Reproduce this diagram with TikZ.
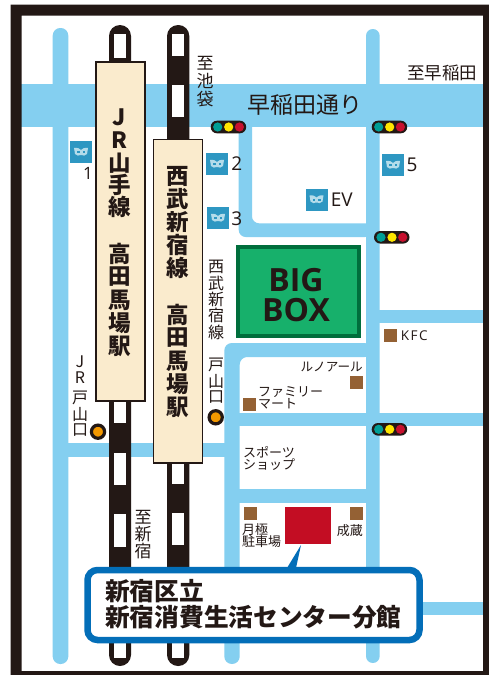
\documentclass[tikz,border=0pt]{standalone}
\usepackage{fontspec}
\setmainfont{Noto Sans CJK JP}
\newfontfamily\latinf{Open Sans}
\definecolor{road}{HTML}{84CFF0}
\definecolor{ink}{HTML}{231815}
\definecolor{cream}{HTML}{FAEBCD}
\definecolor{bbfill}{HTML}{17B06B}
\definecolor{bbline}{HTML}{006E3C}
\definecolor{brownsq}{HTML}{946134}
\definecolor{spot}{HTML}{C30D23}
\definecolor{callout}{HTML}{036EB8}
\definecolor{iconb}{HTML}{2E97C2}
\definecolor{icong}{HTML}{B4DCEA}
\definecolor{sigteal}{HTML}{009E96}
\definecolor{sigyel}{HTML}{FFE600}
\definecolor{sigred}{HTML}{C8102E}
\definecolor{orangest}{HTML}{F39800}
\tikzset{
  roadfill/.style={fill=road},
  tie/.style={fill=white},
  stationbox/.style={fill=cream,draw=ink,line width=1.6pt},
  bigchar/.style={font=\fontsize{22.5}{23}\selectfont\bfseries,text=ink,inner sep=0pt},
  label/.style={font=\fontsize{16}{16}\selectfont,text=ink,inner sep=0pt},
  small/.style={font=\fontsize{13}{14}\selectfont,text=ink,inner sep=0pt},
  num/.style={font=\fontsize{19}{19}\selectfont\latinf,text=ink,inner sep=0pt},
  sq/.style={fill=brownsq}
}
\newcommand{\signal}[2]{%
  \fill[ink,rounded corners=6.3pt] (#1,#2) rectangle ++(35.5,12.6);
  \fill[sigteal] (#1+7,#2+6.3) circle (4.6);
  \fill[sigyel] (#1+18,#2+6.3) circle (4.6);
  \fill[sigred] (#1+28.7,#2+6.3) circle (4.6);
}
\newcommand{\subway}[2]{%
  \fill[iconb] (#1,#2) rectangle ++(22,22);
  \fill[icong] (#1+4,#2+7) .. controls (#1+8,#2+6.5) and (#1+9.5,#2+7.5) .. (#1+11,#2+9)
     .. controls (#1+12.5,#2+7.5) and (#1+14,#2+6.5) .. (#1+18,#2+7)
     -- (#1+17,#2+13) .. controls (#1+15,#2+15) and (#1+13,#2+15) .. (#1+11.8,#2+14)
     -- (#1+10.2,#2+14) .. controls (#1+9,#2+15) and (#1+7,#2+15) .. (#1+5,#2+13) -- cycle;
  \fill[iconb] (#1+7,#2+10) rectangle ++(2.5,2.2);
  \fill[iconb] (#1+12.5,#2+10) rectangle ++(2.5,2.2);
}
\begin{document}
\begin{tikzpicture}[x=1pt,y=-1pt]
\useasboundingbox (0,0) rectangle (489,675);
\fill[white] (0,0) rectangle (489,675);
% roads
\fill[roadfill] (21,84) rectangle (483,127);
\fill[roadfill,rounded corners=7.5pt] (52.7,28) rectangle (68.3,664);
\fill[roadfill,rounded corners=6.8pt] (366,29) rectangle (379.7,663);
\fill[roadfill,rounded corners=7pt] (238.7,110) -- (238.7,237) -- (372,237) -- (372,223.3) -- (252,223.3) -- (252,110) -- cycle;
\fill[roadfill,rounded corners=7.5pt] (224.3,664) -- (224.3,343) -- (372,343) -- (372,357) -- (239.7,357) -- (239.7,664) -- cycle;
\fill[roadfill] (375,310) rectangle (483,323);
\fill[roadfill] (235,413) rectangle (483,426);
\fill[roadfill] (60,443) rectangle (230,457);
\fill[roadfill] (235,489) rectangle (370,503);
\fill[roadfill] (375,602) rectangle (483,615);
% tracks
\fill[ink,rounded corners=11pt] (109,25) rectangle (131,666);
\fill[ink,rounded corners=11pt] (167,25) rectangle (189.3,666);
\foreach \a/\b in {34/58,400/423,453/485,514/547,643/658}
  \fill[tie] (114.3,\a) rectangle (125.7,\b);
\foreach \a/\b in {34/56,85/117,462/484,513/545,643/658}
  \fill[tie] (172.3,\a) rectangle (184,\b);
% station boxes
\draw[stationbox] (96,62) rectangle (145,401);
\draw[stationbox] (153.5,139.5) rectangle (202.5,463);
\foreach \c/\y in {J/117,R/140,山/163,手/185,線/207,高/254,田/277,馬/300,場/323,駅/346}
  \node[bigchar] (jr\y) at (119.5,\y) {\c};
\foreach \c/\y in {西/176,武/199,新/222,宿/245,線/268,高/315,田/338,馬/361,場/384,駅/407}
  \node[bigchar] (sb\y) at (178,\y) {\c};
% frame
\fill[ink,even odd rule] (10.5,4.5) rectangle (489,675) (21.5,15.5) rectangle (483,671);
% BIG BOX
\draw[fill=bbfill,draw=bbline,line width=4pt] (238,247) rectangle (359,336);
\node[inner sep=0pt,text=ink,font=\fontsize{32}{32}\selectfont\bfseries\latinf] (big) at (296,280) {BIG};
\node[inner sep=0pt,text=ink,font=\fontsize{32}{32}\selectfont\bfseries\latinf] (box) at (296,310) {BOX};
% signals
\signal{210.7}{120.7}
\signal{371.7}{120.7}
\signal{374}{231}
\signal{371.7}{423}
% subway icons
\subway{70}{141}
\subway{206}{153}
\subway{207}{207}
\subway{382}{154}
\subway{305.5}{188.5}
\node[num,font=\fontsize{17}{17}\selectfont\latinf] (n1) at (88,173) {1};
\node[num] (n2) at (236.7,164) {2};
\node[num] (n3) at (236.7,219) {3};
\node[num] (n5) at (412,165) {5};
\node[num] (nev) at (341.7,200) {EV};
% road and direction labels
\node[font=\fontsize{23}{23}\selectfont,text=ink,inner sep=0pt] (waseda) at (304.5,105) {早稲田通り};
\node[font=\fontsize{17.5}{17.5}\selectfont,text=ink,inner sep=0pt] (towaseda) at (442,73) {至早稲田};
\foreach \c/\y in {至/63,池/81,袋/99}
  \node[label,font=\fontsize{17}{17}\selectfont] (ik\y) at (205,\y) {\c};
\foreach \c/\y in {至/517,新/534,宿/551}
  \node[label,font=\fontsize{17}{17}\selectfont] (sj\y) at (143,\y) {\c};
\foreach \c/\y in {西/266.5,武/283,新/299,宿/315.5,線/332,戸/365,山/381,口/397}
  \node[label] (st\y) at (216,\y) {\c};
\foreach \c/\y in {J/362,R/378,戸/398,山/414,口/430}
  \node[label] (jt\y) at (80,\y) {\c};
% stations
\draw[ink,fill=orangest,line width=3.2pt] (98,431.7) circle (6.6);
\draw[ink,fill=orangest,line width=3.2pt] (215.7,417.3) circle (6.6);
% brown squares and shop labels
\fill[sq] (384,329) rectangle ++(13,13);
\node[anchor=west,inner sep=0pt,text=ink,font=\fontsize{13.5}{14}\selectfont\latinf] (kfc) at (400.7,336) {K\kern1.5pt F\kern1.5pt C};
\fill[sq] (350,376) rectangle ++(13,13);
\node[small,anchor=east,font=\fontsize{12.6}{13}\selectfont] (renoir) at (363,367) {ルノアール};
\fill[sq] (243,398) rectangle ++(13,13);
\node[small,anchor=west] (fm1) at (258,392) {ファミリー};
\node[small,anchor=west] (fm2) at (258,404) {マート};
\node[small,anchor=west] (sp1) at (243,452) {スポーツ};
\node[small,anchor=west] (sp2) at (243,465) {ショップ};
\fill[sq] (244,507) rectangle ++(13,13);
\node[small,anchor=west] (ts1) at (242,530) {月極};
\node[small,anchor=west] (ts2) at (242,542) {駐車場};
\fill[sq] (350,507) rectangle ++(13,13);
\node[small,anchor=east] (nari) at (363,531) {成蔵};
% target and callout
\fill[spot] (285,507) rectangle (331,544);
\node[draw=callout,fill=white,line width=6.5pt,rounded corners=10pt,minimum width=332pt,minimum height=70pt,inner sep=0pt] (call) at (253.5,605) {};
\fill[callout] (301,545) -- (296,568) -- (287,568) -- cycle;
\node[inner sep=0pt,anchor=west,text=ink,font=\fontsize{24.7}{25}\selectfont\bfseries] (c1) at (105,591) {新宿区立};
\node[inner sep=0pt,anchor=west,text=ink,font=\fontsize{24.7}{25}\selectfont\bfseries] (c2) at (105,617) {新宿消費生活センター分館};
\end{tikzpicture}
\end{document}
